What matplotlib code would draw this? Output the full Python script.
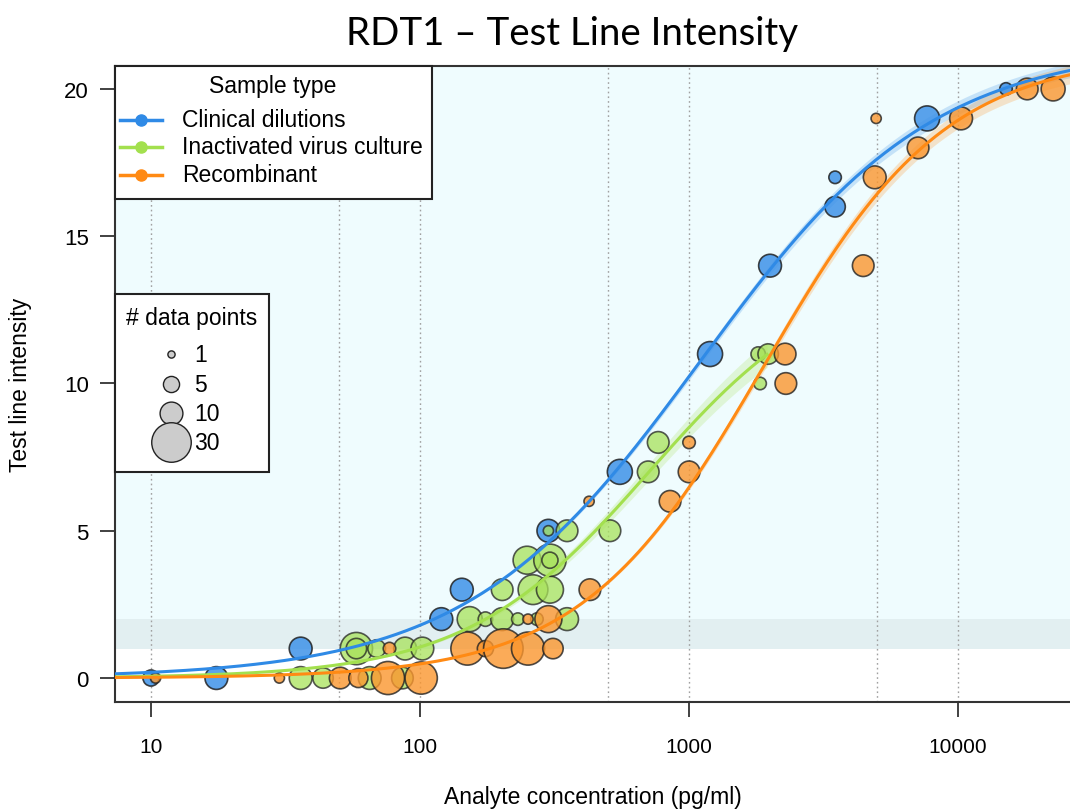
import matplotlib
matplotlib.use('Agg')
import matplotlib.pyplot as plt
from matplotlib.lines import Line2D
from matplotlib.patches import Rectangle
import numpy as np

plt.rcParams['font.family'] = ['Liberation Sans', 'DejaVu Sans']

# clinical dilutions: concentration, intensity, number of data points
clin_x = [10, 17.5, 36, 120, 143, 300, 553, 1197, 2000, 3490, 3490, 7670, 15070]
clin_y = [0, 0, 1, 2, 3, 5, 7, 11, 14, 16, 17, 19, 20]
clin_n = [5, 10, 10, 10, 10, 10, 12, 12, 10, 8, 3, 12, 3]

# inactivated virus culture
virus_x = [36, 43.6, 65, 86,
           58, 58, 69, 88, 102,
           153, 175, 202, 231, 272, 352,
           202, 263, 304,
           250, 304, 304,
           300, 352, 508,
           705, 768, 1837, 1807, 1968]
virus_y = [0, 0, 0, 0,
           1, 1, 1, 1, 1,
           2, 2, 2, 2, 2, 2,
           3, 3, 3,
           4, 4, 4,
           5, 5, 5,
           7, 8, 10, 11, 11]
virus_n = [10, 8, 10, 9,
           20, 8, 6, 10, 10,
           12, 4, 10, 3, 3, 10,
           9, 17, 14,
           15, 20, 5,
           2, 9, 9,
           9, 9, 3, 4, 8]

# recombinant
recomb_x = [10.4, 30, 50.5, 59, 76, 101,
            77, 150, 175, 204, 252, 312,
            252, 300, 428, 425, 850, 1000, 1000,
            2290, 2276, 4440, 4900, 7100, 4960, 10260, 18070, 22560]
recomb_y = [0, 0, 0, 0, 0, 0,
            1, 1, 1, 1, 1, 1,
            2, 2, 3, 6, 6, 7, 8,
            10, 11, 14, 17, 18, 19, 19, 20, 20]
recomb_n = [2, 2, 9, 7, 21, 20,
            3, 21, 5, 30, 21, 8,
            2, 14, 9, 2, 9, 9, 3,
            9, 9, 9, 10, 9, 2, 10, 9, 11]

# 4PL fit parameters: bottom, top, EC50, hill slope, upper end of curve
clin_fit = [0, 21.5, 1100, 1.0, 26060]
virus_fit = [0, 14.0, 710, 1.28, 1950]
recomb_fit = [0, 21.2, 1900, 1.28, 26060]

groups = ['Clinical dilutions', 'Inactivated virus culture', 'Recombinant']
size_keys = [1, 5, 10, 30]

c_blue = '#2f8ae6'
c_green = '#a3e04e'
c_orange = '#ff8a14'
pt_blue = '#3f93e8'
pt_green = '#a8e25a'
pt_orange = '#fb962e'

xmin, xmax = 7.35, 26060
ymin, ymax = -0.815, 20.78


def fourpl(x, b, t, c, h):
    return b + (t - b) / (1 + (c / x) ** h)


def msize(n):
    return 27.0 * np.asarray(n)


fig = plt.figure(figsize=(10.7, 8.12), dpi=100)
ax = fig.add_axes([0.1075, 0.1342, 0.8925, 0.7833])
ax.set_xscale('log')

# pixel position inside the axes -> axes fraction
def ap(px, py):
    return (px - 115) / 955.0, (703 - py) / 636.0

# shaded regions
ax.axhspan(1, ymax, color='#effcfe', zorder=0, lw=0)
ax.axhspan(1, 2, color='#e2eff1', zorder=0.1, lw=0)

# dotted vertical grid
for gx in [10, 50, 100, 500, 1000, 5000, 10000]:
    ax.axvline(gx, color='#a0a0a0', ls=(0, (1.2, 2.2)), lw=1.0, zorder=0.5)

# fitted curves with a faint band
for fit, col, bw in [(clin_fit, c_blue, 0.012), (virus_fit, c_green, 0.04),
                     (recomb_fit, c_orange, 0.015)]:
    xs = np.logspace(np.log10(xmin), np.log10(fit[4]), 300)
    ys = fourpl(xs, *fit[:4])
    ax.fill_between(xs, ys * (1 - bw), ys * (1 + bw), color=col, alpha=0.22,
                    lw=0, zorder=1)
    ax.plot(xs, ys, color=col, lw=2.2, zorder=6)

# data points
ax.scatter(clin_x, clin_y, s=msize(clin_n), c=pt_blue, edgecolors='#222222',
           linewidths=1.2, alpha=0.85, zorder=2)
ax.scatter(virus_x, virus_y, s=msize(virus_n), c=pt_green, edgecolors='#222222',
           linewidths=1.2, alpha=0.75, zorder=3)
ax.scatter(recomb_x, recomb_y, s=msize(recomb_n), c=pt_orange, edgecolors='#222222',
           linewidths=1.2, alpha=0.8, zorder=4)

# axes and ticks
for s in ['left', 'top', 'bottom']:
    ax.spines[s].set_color('#333333')
    ax.spines[s].set_linewidth(1.5)
ax.spines['right'].set_visible(False)
ax.set_xticks([10, 100, 1000, 10000])
ax.set_xticklabels(['10', '100', '1000', '10000'])
ax.xaxis.set_minor_locator(matplotlib.ticker.NullLocator())
ax.set_yticks([0, 5, 10, 15, 20])
ax.tick_params(axis='x', length=11, width=1.3, pad=14, labelsize=15, color='#333333')
ax.tick_params(axis='y', length=11, width=1.3, pad=8, labelsize=16, color='#333333')

ax.set_xlabel('Analyte concentration (pg/ml)', fontsize=16.5, labelpad=21)
fig.text(0.019, 0.526, 'Test line intensity', rotation=90, fontsize=16.5,
         ha='center', va='center')

fig.text(0.535, 0.958, 'RDT1 \u2013 Test Line Intensity', fontsize=27.7,
         family=['Lato', 'DejaVu Sans'], ha='center', va='center')

# sample type legend
x0, y0 = ap(115, 200)
x1, y1 = ap(432, 67)
ax.add_patch(Rectangle((x0, y0), x1 - x0, y1 - y0, transform=ax.transAxes,
                       fc='white', ec='#222222', lw=1.5, zorder=10, clip_on=False))
tx, ty = ap(273, 87)
ax.text(tx, ty, 'Sample type', transform=ax.transAxes, fontsize=16.5,
        ha='center', va='center', zorder=11)
for name, col, py in zip(groups, [c_blue, c_green, c_orange], [121, 148, 176]):
    lx0, ly = ap(120, py)
    lx1, _ = ap(162, py)
    lxm, _ = ap(141, py)
    ax.add_line(Line2D([lx0, lx1], [ly, ly], transform=ax.transAxes, color=col,
                       lw=2.5, zorder=11))
    ax.add_line(Line2D([lxm], [ly], transform=ax.transAxes, color=col, marker='o',
                       markersize=8, zorder=11))
    tx, _ = ap(182, py)
    ax.text(tx, ly, name, transform=ax.transAxes, fontsize=16.5, ha='left',
            va='center', zorder=11)

# point count legend
x0, y0 = ap(115, 473)
x1, y1 = ap(269, 295)
ax.add_patch(Rectangle((x0, y0), x1 - x0, y1 - y0, transform=ax.transAxes,
                       fc='white', ec='#222222', lw=1.5, zorder=10, clip_on=False))
tx, ty = ap(192, 318)
ax.text(tx, ty, '# data points', transform=ax.transAxes, fontsize=16.5,
        ha='center', va='center', zorder=11)
for k, py in zip(size_keys, [355, 385, 414, 443]):
    cx, cy = ap(171, py)
    ax.scatter([cx], [cy], s=msize(k), c='#cccccc', edgecolors='#222222',
               linewidths=1.0, transform=ax.transAxes, zorder=11, clip_on=False)
    tx, _ = ap(194, py)
    ax.text(tx, cy, str(k), transform=ax.transAxes, fontsize=16.5, ha='left',
            va='center', zorder=12)

ax.set_xlim(xmin, xmax)
ax.set_ylim(ymin, ymax)

fig.savefig('out.png', dpi=100)
